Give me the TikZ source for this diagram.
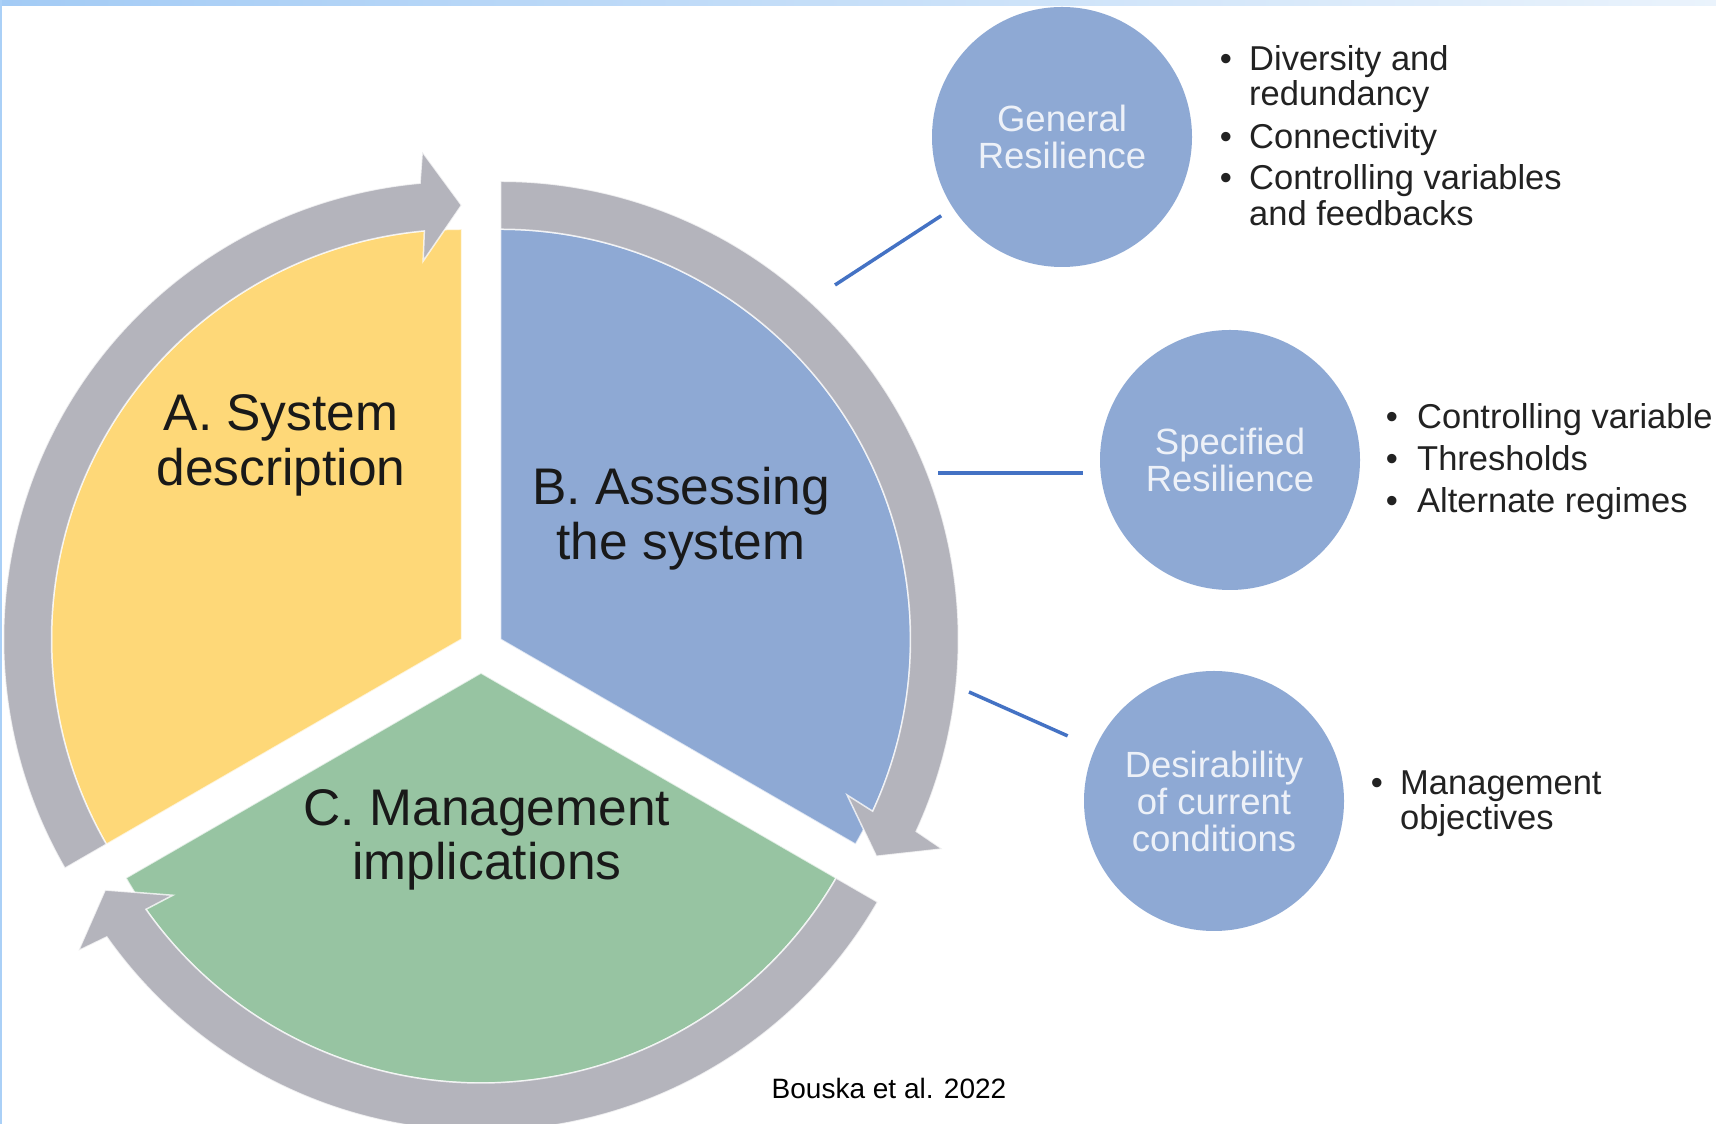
\documentclass[tikz,border=0pt]{standalone}
\usepackage{fontspec}
\setmainfont{Liberation Sans}
\usetikzlibrary{calc}

\definecolor{sysyellow}{HTML}{FED878}
\definecolor{sysblue}{HTML}{8EA9D4}
\definecolor{sysgreen}{HTML}{97C4A2}
\definecolor{ringgray}{HTML}{B4B4BC}
\definecolor{linkblue}{HTML}{4472C4}
\definecolor{circletext}{HTML}{EDF1F8}
\definecolor{stripleft}{HTML}{A3CBF5}
\definecolor{stripright}{HTML}{EAF3FC}
\definecolor{edgeline}{HTML}{AAD0F7}
\definecolor{listtext}{HTML}{222222}

\begin{document}
\begin{tikzpicture}[x=1pt,y=1pt,
  wedge/.style={draw=white,draw opacity=0.7,line width=1.5pt},
  ringarrow/.style={fill=ringgray,draw=white,draw opacity=0.75,line width=1.5pt,line join=miter},
  biglabel/.style={anchor=base,inner sep=0pt,text=black!90,font=\fontsize{51.5}{50}\selectfont},
  topic/.style={circle,fill=sysblue,minimum size=260pt,inner sep=0pt,align=center,
    text=circletext,font=\fontsize{36.5}{37}\selectfont},
  dot/.style={anchor=base,inner sep=0pt,text=listtext,font=\fontsize{34.5}{36}\selectfont},
  item/.style={anchor=base west,inner sep=0pt,text=listtext,font=\fontsize{34.5}{36}\selectfont},
  conn/.style={draw=linkblue,line width=3.5pt}]

\useasboundingbox (0,0) rectangle (1716,1124);
\clip (0,0) rectangle (1716,1124);
\fill[white] (0,0) rectangle (1716,1124);

% page decoration: gradient strip on top and thin rule on the left
\shade[left color=stripleft,right color=stripright] (0,1118) rectangle (1716,1124);
\fill[edgeline] (0,0) rectangle (2,1124);

% ---- segment A: system description ----
\begin{scope}[shift={(461.5,484.75)}]
  \filldraw[wedge,fill=sysyellow] (0,0) -- (90:410pt) arc[start angle=90,end angle=210,radius=410pt] -- cycle;
  \filldraw[ringarrow] (210:458pt) arc[start angle=210,end angle=95.2,radius=458pt]
    -- (94.6:489pt) -- (90:434pt) -- (95.8:380pt) -- (95.2:410pt)
    arc[start angle=95.2,end angle=210,radius=410pt] -- cycle;
\end{scope}

% ---- segment B: assessing the system ----
\begin{scope}[shift={(500.5,484.75)}]
  \filldraw[wedge,fill=sysblue] (0,0) -- (-30:410pt) arc[start angle=-30,end angle=90,radius=410pt] -- cycle;
  \filldraw[ringarrow] (90:458pt) arc[start angle=90,end angle=-24.8,radius=458pt]
    -- (-25.4:489pt) -- (-30:434pt) -- (-24.2:380pt) -- (-24.8:410pt)
    arc[start angle=-24.8,end angle=90,radius=410pt] -- cycle;
\end{scope}

% ---- segment C: management implications ----
\begin{scope}[shift={(481,451)}]
  \filldraw[wedge,fill=sysgreen] (0,0) -- (210:410pt) arc[start angle=210,end angle=330,radius=410pt] -- cycle;
  \filldraw[ringarrow] (330:458pt) arc[start angle=330,end angle=215.2,radius=458pt]
    -- (214.6:489pt) -- (210:434pt) -- (215.8:380pt) -- (215.2:410pt)
    arc[start angle=215.2,end angle=330,radius=410pt] -- cycle;
\end{scope}

% segment labels
\node[biglabel] (A1) at (281,693) {A. System};
\node[biglabel] (A2) at (281,638) {description};
\node[biglabel] (B1) at (681,619) {B. Assessing};
\node[biglabel] (B2) at (681,564) {the system};
\node[biglabel] (C1) at (487,298) {C. Management};
\node[biglabel] (C2) at (487,244) {implications};

% resilience topics
\node[topic] (gen)  at (1062,987) {General\\Resilience};
\node[topic] (spec) at (1230,664) {Specified\\Resilience};
\node[topic] (des)  at (1214,323) {Desirability\\of current\\conditions};

% links from the assessment segment to the topics
\coordinate (l1) at (835,839);
\coordinate (l2) at (938,651);
\coordinate (l3) at (969,432);
\draw[conn,shorten >=14pt] (l1) -- (gen);
\draw[conn,shorten >=17pt] (l2) -- (l2 -| spec.west);
\draw[conn,shorten >=30pt] (l3) -- (des);

% general resilience items
\node[dot]  (g1b) at (1226,1053) {•};
\node[item] (g1)  at (1249,1053) {Diversity and};
\node[item] (g1c) at (1249,1018) {redundancy};
\node[dot]  (g2b) at (1226,975) {•};
\node[item] (g2)  at (1249,975) {Connectivity};
\node[dot]  (g3b) at (1226,934) {•};
\node[item] (g3)  at (1249,934) {Controlling variables};
\node[item] (g3c) at (1249,898) {and feedbacks};

% specified resilience items
\node[dot]  (s1b) at (1392,695) {•};
\node[item] (s1)  at (1417,695) {Controlling variable};
\node[dot]  (s2b) at (1392,653) {•};
\node[item] (s2)  at (1417,653) {Thresholds};
\node[dot]  (s3b) at (1392,611) {•};
\node[item] (s3)  at (1417,611) {Alternate regimes};

% desirability items
\node[dot]  (d1b) at (1377,329) {•};
\node[item] (d1)  at (1400,329) {Management};
\node[item] (d1c) at (1400,294) {objectives};

% source
\node[anchor=base,inner sep=0pt,font=\fontsize{28}{30}\selectfont] (src) at (889,25) {Bouska et al. 2022};

\end{tikzpicture}
\end{document}
